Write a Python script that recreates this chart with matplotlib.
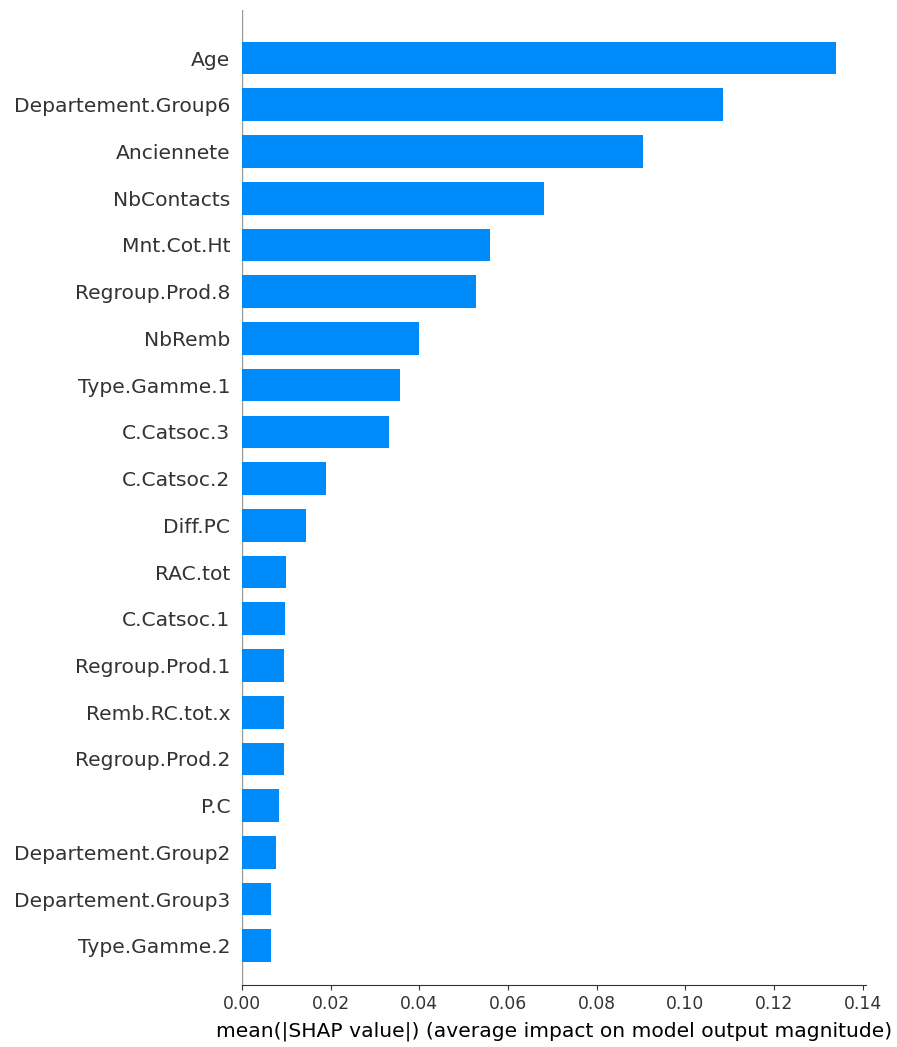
import matplotlib
matplotlib.use("Agg")
import matplotlib.pyplot as plt

# mean absolute SHAP value per feature, top to bottom
features = ["Age", "Departement.Group6", "Anciennete", "NbContacts", "Mnt.Cot.Ht",
            "Regroup.Prod.8", "NbRemb", "Type.Gamme.1", "C.Catsoc.3", "C.Catsoc.2",
            "Diff.PC", "RAC.tot", "C.Catsoc.1", "Regroup.Prod.1", "Remb.RC.tot.x",
            "Regroup.Prod.2", "P.C", "Departement.Group2", "Departement.Group3", "Type.Gamme.2"]
mean_shap = [0.1339, 0.1085, 0.0904, 0.0681, 0.0559,
             0.0528, 0.0399, 0.0356, 0.0331, 0.0189,
             0.0144, 0.0099, 0.0098, 0.0095, 0.0095,
             0.0094, 0.0084, 0.0076, 0.0066, 0.0065]
xticks = [0.0, 0.02, 0.04, 0.06, 0.08, 0.10, 0.12, 0.14]

W, H = 897, 1047
fig = plt.figure(figsize=(W / 100, H / 100), dpi=100)
ax = fig.add_axes([242 / W, 1 - 985 / H, (866 - 242) / W, (985 - 10) / H])

n = len(features)
y_pos = list(range(n - 1, -1, -1))
ax.barh(y_pos, mean_shap, 0.7, align="center", color="#008bfb")
ax.axvline(0, 0, 1, color="#999999", linewidth=1, zorder=-1)

ax.set_yticks(y_pos)
ax.set_yticklabels(features, fontsize=14.6, color="#333333")
ax.set_xticks(xticks)
ax.set_xticklabels([f"{t:.2f}" for t in xticks])
ax.set_xlim(0, 0.1407)
ax.set_ylim(-0.84, n + 0.03)

ax.xaxis.set_ticks_position("bottom")
ax.yaxis.set_ticks_position("none")
ax.spines["right"].set_visible(False)
ax.spines["top"].set_visible(False)
ax.spines["left"].set_visible(False)
ax.spines["bottom"].set_color("#333333")
ax.tick_params(axis="x", labelsize=12.3, colors="#333333")
ax.tick_params(axis="y", pad=5)
ax.set_xlabel("mean(|SHAP value|) (average impact on model output magnitude)",
              fontsize=14.6, color="#000000", labelpad=6)

fig.savefig("out.png", dpi=100)
